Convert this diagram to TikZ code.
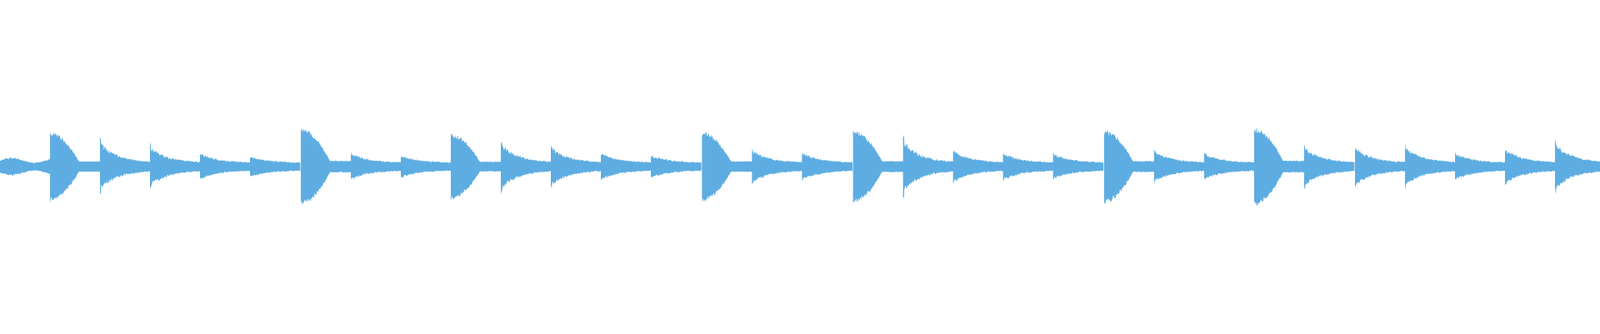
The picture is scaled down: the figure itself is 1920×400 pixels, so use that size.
\documentclass[tikz,border=0pt]{standalone}
\begin{document}
\begin{tikzpicture}[x=0.02cm,y=0.02cm,
  declare function={
    kk(\t,\A)=\A*max(0.15,1-(\t/31)^1.8);
    hh(\t,\A)=(\t<1.2)*\A+(\t>=1.2)*(5+0.7*\A*exp(-\t/17));
  },
  wv/.style={fill={rgb,255:red,93;green,173;blue,226}}]
\useasboundingbox (0,-200) rectangle (1920,200);
\begin{scope}[xscale=1.2245]
\fill[wv] plot[domain=0:49.2,samples=80] (\x,{(8+3*sin(\x*8))*(0.8+0.2*rnd)})
  -- plot[domain=49.2:0,samples=80] (\x,{-(8+3*sin(\x*8))*(0.8+0.2*rnd)}) -- cycle;
\foreach \o/\A in {49/43,295/47,442/40,688/43,836/45,1082/45,1229/48}{
  \fill[wv] plot[domain=0:49.3,samples=120] ({\o+\x},{kk(\x,\A)*(0.85+0.15*rnd)})
   -- plot[domain=49.3:0,samples=120] ({\o+\x},{-kk(\x,\A)*(0.85+0.15*rnd)}) -- cycle;
}
\foreach \o/\A in {98/37,147/29,196/17,245/12,344/17,393/13,491/34,540/28,589/17,638/14,737/23,786/18,885/39,934/22,983/18,1032/16,1131/21,1180/17,1278/28,1328/27,1377/28,1426/17,1475/24}{
  \fill[wv] plot[domain=0:49.3,samples=120] ({\o+\x},{hh(\x,\A)*(0.75+0.25*rnd)})
   -- plot[domain=49.3:0,samples=120] ({\o+\x},{-hh(\x,\A)*(0.75+0.25*rnd)}) -- cycle;
}
\fill[wv] plot[domain=0:44,samples=110] ({1524+\x},{hh(\x,34)*(0.75+0.25*rnd)})
   -- plot[domain=44:0,samples=110] ({1524+\x},{-hh(\x,34)*(0.75+0.25*rnd)}) -- cycle;
\end{scope}
\end{tikzpicture}
\end{document}
